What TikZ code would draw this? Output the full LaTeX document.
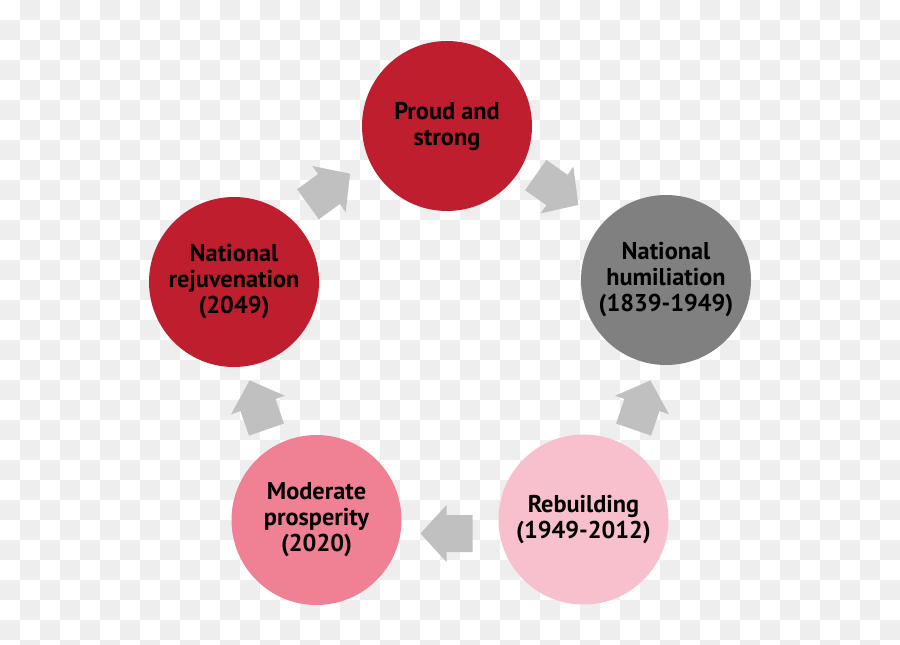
\documentclass[tikz,border=0pt]{standalone}
\usepackage{fontspec}
\setmainfont{PT Sans}
\definecolor{checker}{RGB}{238,238,238}
\definecolor{nred}{RGB}{190,30,45}
\definecolor{ngray}{RGB}{128,128,128}
\definecolor{lpink}{RGB}{248,192,204}
\definecolor{mpink}{RGB}{240,128,147}
\definecolor{agray}{RGB}{192,192,192}
\tikzset{
  circ/.style={circle, minimum size=170pt, inner sep=0pt, align=center,
    font=\bfseries\fontsize{24.3}{26}\selectfont, text=black},
  blockarrow/.pic={\fill[agray] (-26,-18.5) -- (0,-18.5) -- (0,-28.5) -- (26,0)
    -- (0,28.5) -- (0,18.5) -- (-26,18.5) -- cycle;}
}
\begin{document}
\begin{tikzpicture}[x=1pt,y=-1pt]
\useasboundingbox (0,0) rectangle (900,645);
\fill[white] (0,0) rectangle (900,645);
\begin{scope}
\clip (0,0) rectangle (900,645);
\foreach \j in {0,...,32}{
  \pgfmathtruncatemacro\s{mod(\j+1,2)}
  \foreach \i in {0,2,...,44}{
    \fill[checker] ({(\i+\s)*20},{\j*20}) rectangle ++(20,20);
  }
}
\end{scope}
\node[circ, fill=nred] (proud) at (447,126) {Proud and\\strong};
\node[circ, fill=ngray] (humil) at (666,280) {National\\humiliation\\(1839-1949)};
\node[circ, fill=lpink] (rebuild) at (583.5,519.5) {Rebuilding\\(1949-2012)};
\node[circ, fill=mpink] (moder) at (316.5,520) {Moderate\\prosperity\\(2020)};
\node[circ, fill=nred] (rejuv) at (234,282) {National\\rejuvenation\\(2049)};
\pic[rotate=36] at (329,189) {blockarrow};
\pic[rotate=-35] at (557,190) {blockarrow};
\pic[rotate=71] at (642,405) {blockarrow};
\pic[rotate=180] at (446.5,533.5) {blockarrow};
\pic[rotate=109] at (258,405) {blockarrow};
\end{tikzpicture}
\end{document}
